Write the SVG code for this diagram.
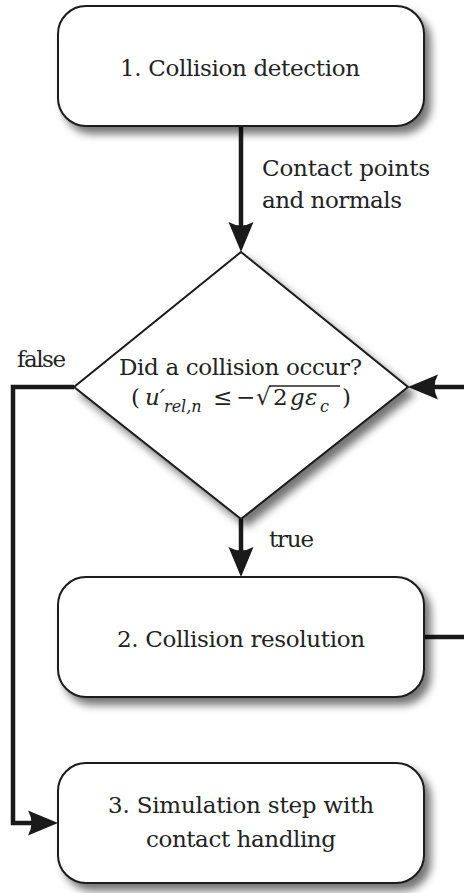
<svg xmlns="http://www.w3.org/2000/svg" width="464" height="893" viewBox="0 0 464 893">
<style>
  .box{fill:#fff;stroke:#1a1a1a;stroke-width:2;}
  .t{font-family:'DejaVu Serif','Liberation Serif',serif;font-size:23px;fill:#222;}
  .i{font-style:italic;}
  .sub{font-size:16px;}
  .c{fill:none;stroke:#1a1a1a;stroke-width:4.5;}
</style>
<defs>
  <filter id="sh" x="-10%" y="-10%" width="125%" height="130%">
    <feGaussianBlur in="SourceAlpha" stdDeviation="4"/>
    <feOffset dx="6" dy="7" result="b"/>
    <feComponentTransfer><feFuncA type="linear" slope="0.55"/></feComponentTransfer>
    <feMerge><feMergeNode/><feMergeNode in="SourceGraphic"/></feMerge>
  </filter>
  <marker id="ah" viewBox="0 -13 30 26" refX="10" refY="0" markerWidth="30" markerHeight="26" markerUnits="userSpaceOnUse" orient="auto">
    <path d="M0,-12.5 Q7,0 0,12.5 L30,0 Z" fill="#1a1a1a"/>
  </marker>
</defs>

<g id="connectors">
  <line class="c" x1="241" y1="126" x2="241" y2="232" marker-end="url(#ah)"/>
  <line class="c" x1="466" y1="387" x2="428" y2="387" marker-end="url(#ah)"/>
  <line class="c" x1="241" y1="519" x2="241" y2="557" marker-end="url(#ah)"/>
  <line class="c" x1="424" y1="637" x2="466" y2="637"/>
  <path class="c" d="M74,387 H13 V823 H38" marker-end="url(#ah)"/>
  <text class="t" x="262" y="176" textLength="168">Contact points</text>
  <text class="t" x="262" y="208" textLength="140">and normals</text>
  <text class="t" x="17" y="367" textLength="49">false</text>
  <text class="t" x="269" y="547" textLength="45">true</text>
</g>

<g id="n1">
  <rect class="box" x="58" y="6" width="366" height="120" rx="28" filter="url(#sh)"/>
  <text class="t" x="240" y="76" text-anchor="middle" textLength="240">1. Collision detection</text>
</g>

<g id="n_decision">
  <polygon class="box" points="241,252 408,387 241,519 74,387" filter="url(#sh)"/>
  <text class="t" x="240.5" y="375" text-anchor="middle" textLength="243">Did a collision occur?</text>
  <text class="t" y="405"><tspan x="131">(</tspan><tspan x="145" class="i">u′</tspan><tspan x="164" y="412" class="i sub">rel,n</tspan><tspan x="213" y="405">≤</tspan><tspan x="236">−</tspan><tspan x="256">√</tspan><tspan x="273">2</tspan><tspan x="290" class="i">g</tspan><tspan x="305" class="i">ε</tspan><tspan x="320" y="412" class="i sub">c</tspan><tspan x="342" y="405">)</tspan></text>
  <line x1="269" y1="386" x2="340" y2="386" stroke="#222" stroke-width="1.3"/>
</g>

<g id="n2">
  <rect class="box" x="58" y="577" width="366" height="120" rx="28" filter="url(#sh)"/>
  <text class="t" x="241" y="647" text-anchor="middle" textLength="248">2. Collision resolution</text>
</g>

<g id="n3">
  <rect class="box" x="58" y="763" width="366" height="120" rx="28" filter="url(#sh)"/>
  <text class="t" x="241" y="813" text-anchor="middle" textLength="266">3. Simulation step with</text>
  <text class="t" x="241" y="847" text-anchor="middle" textLength="190">contact handling</text>
</g>
</svg>
